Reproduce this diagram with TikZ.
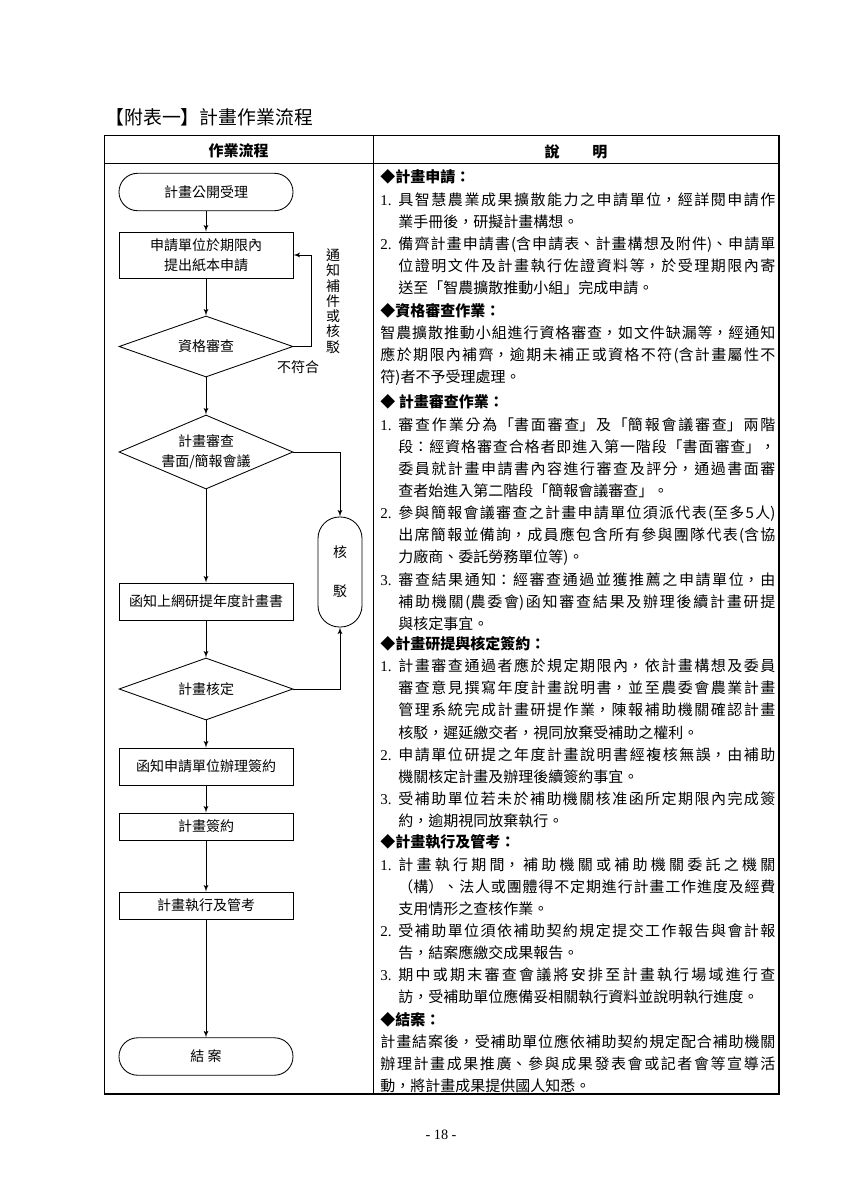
\documentclass[tikz,border=0pt]{standalone}
\usepackage{fontspec}
\setmainfont{Noto Sans CJK TC}
\newfontfamily\numfont{Liberation Serif}
\usetikzlibrary{arrows}
\usetikzlibrary{shapes}

\XeTeXlinebreaklocale "zh"
\XeTeXlinebreakskip=0pt plus 6pt

\newcommand\chartfont{\fontsize{9.8}{14}\selectfont}
\newcommand\descfont{\fontsize{10.5}{15.5}\selectfont\parindent=0pt\parskip=0pt}
\newcommand\secthead[1]{\noindent{\bfseries #1}\par}
\newcommand\nitem[1]{\par\hangindent=12.6pt\hangafter=1\noindent\makebox[12.6pt][l]{\numfont #1}}

\begin{document}
\begin{tikzpicture}[x=0.7pt,y=-0.7pt,>=latex',line width=0.6pt,
  term/.style={draw,rounded corners=13pt,minimum width=121.8pt,minimum height=26.2pt,font=\chartfont},
  proc/.style={draw,minimum width=121.8pt,minimum height=#1,inner sep=1pt,align=center,font=\chartfont},
  proc/.default=25.9pt,
  decide/.style={draw,diamond,aspect=2.35,inner sep=0pt,minimum width=121.8pt,minimum height=#1,align=center,font=\chartfont},
  desc/.style={anchor=north west,inner sep=0pt,text width=276.5pt,align=justify,font=\descfont}]
  \path[use as bounding box,fill=white] (0,0) rectangle (849,1200);

  \node[anchor=west,inner sep=0pt,font=\fontsize{13.2}{16}\selectfont] (title) at (105,117) {【附表一】計畫作業流程};

  % table frame
  \draw[line width=0.8pt] (104.7,135.7) rectangle (779,1094);
  \draw (104.7,163) -- (779,163);
  \draw (373,135.7) -- (373,1094);
  \node[font=\bfseries\fontsize{10.5}{12}\selectfont] (flowhead) at (238.5,151) {作業流程};
  \node[font=\bfseries\fontsize{10.5}{12}\selectfont] (deschead) at (576,152) {說\hspace{23pt}明};

  % flow chart
  \node[term]          (open)    at (206,192)    {計畫公開受理};
  \node[proc=32.2pt]   (apply)   at (206,255)    {申請單位於期限內\\提出紙本申請};
  \node[decide=42.7pt] (check)   at (206,346.5)  {資格審查};
  \node[decide=51.8pt] (review)  at (206,452)    {計畫審查\\書面/簡報會議};
  \node[proc]          (upload)  at (206,601.5)  {函知上網研提年度計畫書};
  \node[decide=43.4pt] (approve) at (206,689)    {計畫核定};
  \node[proc]          (notice)  at (206,766.5)  {函知申請單位辦理簽約};
  \node[proc=18.9pt]   (sign)    at (206,826.5)  {計畫簽約};
  \node[proc=18.9pt]   (exec)    at (206,905.5)  {計畫執行及管考};
  \node[term]          (close)   at (206,1056.5) {結 案};
  \node[draw,rounded corners=15pt,minimum width=30.8pt,minimum height=77pt,align=center,
        font=\fontsize{9.8}{27.3}\selectfont] (reject) at (340,572) {核\\駁};

  \node[align=center,inner sep=0pt,font=\fontsize{9.8}{10.7}\selectfont] (fixnote) at (333,301) {通\\知\\補\\件\\或\\核\\駁};
  \node[inner sep=0pt,font=\chartfont] (fail) at (298,367) {不符合};

  \path[->] (open)    edge (apply)
            (apply)   edge (check)
            (check)   edge (review)
            (review)  edge (upload)
            (upload)  edge (approve)
            (approve) edge (notice)
            (notice)  edge (sign)
            (sign)    edge (exec)
            (exec)    edge (close)
  ;
  \draw[->] (check.east) -- ++(18,0) |- (apply.east);
  \draw[->] (review.east) -| (reject.north);
  \draw[->] (approve.east) -| (reject.south);

  % notes
  \node[desc] (appnote) at (380,169.5) {%
    \secthead{◆計畫申請：}%
    \nitem{1.}具智慧農業成果擴散能力之申請單位，經詳閱申請作\linebreak 業手冊後，研擬計畫構想。%
    \nitem{2.}備齊計畫申請書(含申請表、計畫構想及附件)、申請單\linebreak 位證明文件及計畫執行佐證資料等，於受理期限內寄\linebreak 送至「智農擴散推動小組」完成申請。\par};
  \node[desc] (checknote) at (380,303) {%
    \secthead{◆資格審查作業：}%
    \noindent 智農擴散推動小組進行資格審查，如文件缺漏等，經通知\linebreak 應於期限內補齊，逾期未補正或資格不符(含計畫屬性不\linebreak 符)者不予受理處理。\par};
  \node[desc] (reviewnote) at (380,394.5) {%
    \secthead{◆ 計畫審查作業：}%
    \nitem{1.}審查作業分為「書面審查」及「簡報會議審查」兩階\linebreak 段：經資格審查合格者即進入第一階段「書面審查」，\linebreak 委員就計畫申請書內容進行審查及評分，通過書面審\linebreak 查者始進入第二階段「簡報會議審查」。%
    \nitem{2.}參與簡報會議審查之計畫申請單位須派代表(至多5人)\linebreak 出席簡報並備詢，成員應包含所有參與團隊代表(含協\linebreak 力廠商、委託勞務單位等)。%
    \nitem{3.}審查結果通知：經審查通過並獲推薦之申請單位，由\linebreak 補助機關(農委會)函知審查結果及辦理後續計畫研提\linebreak 與核定事宜。\par};
  \node[desc] (signnote) at (380,636) {%
    \secthead{◆計畫研提與核定簽約：}%
    \nitem{1.}計畫審查通過者應於規定期限內，依計畫構想及委員\linebreak 審查意見撰寫年度計畫說明書，並至農委會農業計畫\linebreak 管理系統完成計畫研提作業，陳報補助機關確認計畫\linebreak 核駁，遲延繳交者，視同放棄受補助之權利。%
    \nitem{2.}申請單位研提之年度計畫說明書經複核無誤，由補助\linebreak 機關核定計畫及辦理後續簽約事宜。%
    \nitem{3.}受補助單位若未於補助機關核准函所定期限內完成簽\linebreak 約，逾期視同放棄執行。\par};
  \node[desc] (execnote) at (380,834.5) {%
    \secthead{◆計畫執行及管考：}%
    \nitem{1.}計畫執行期間，補助機關或補助機關委託之機關\linebreak （構）、法人或團體得不定期進行計畫工作進度及經費\linebreak 支用情形之查核作業。%
    \nitem{2.}受補助單位須依補助契約規定提交工作報告與會計報\linebreak 告，結案應繳交成果報告。%
    \nitem{3.}期中或期末審查會議將安排至計畫執行場域進行查\linebreak 訪，受補助單位應備妥相關執行資料並說明執行進度。\par};
  \node[desc] (closenote) at (380,1012) {%
    \secthead{◆結案：}%
    \noindent 計畫結案後，受補助單位應依補助契約規定配合補助機關\linebreak 辦理計畫成果推廣、參與成果發表會或記者會等宣導活\linebreak 動，將計畫成果提供國人知悉。\par};

  \node[font=\numfont\fontsize{10}{12}\selectfont] (pageno) at (441,1135) {- 18 -};
\end{tikzpicture}
\end{document}
